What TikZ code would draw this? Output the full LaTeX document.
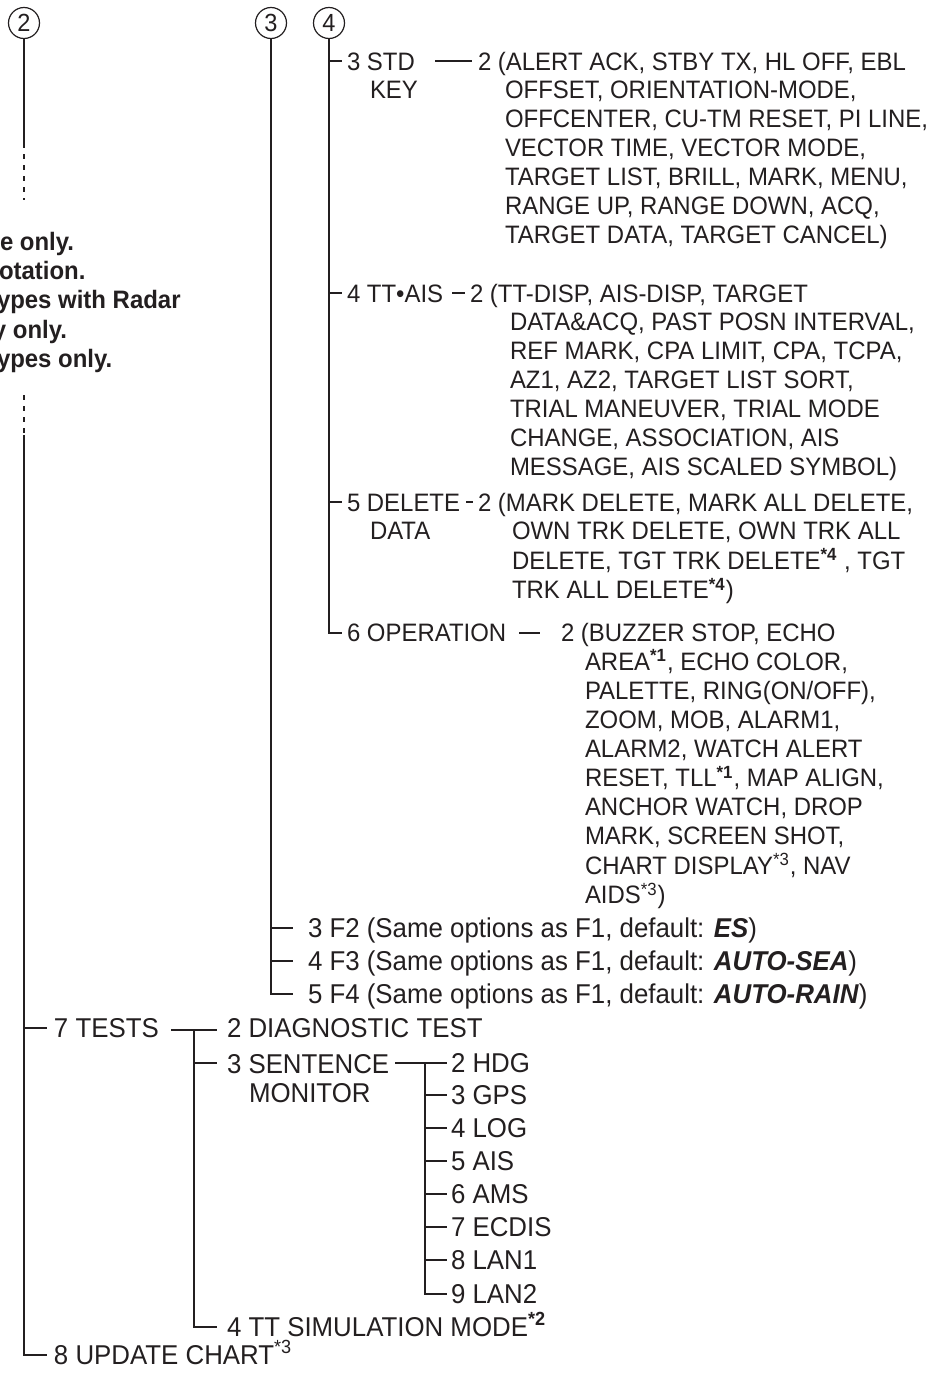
\documentclass[tikz,border=0pt]{standalone}
\usepackage{fontspec}
\setmainfont{Liberation Sans}[FakeStretch=0.95]
\usetikzlibrary{calc}
\definecolor{ink}{HTML}{231F20}
\newcommand{\tl}[1]{\begin{tabular}[t]{@{}l@{}}#1\end{tabular}}
\newcommand{\supb}[1]{\textsuperscript{\textbf{#1}}}
\newcommand{\supr}[1]{\textsuperscript{#1}}
\begin{document}
\begin{tikzpicture}[x=0.5pt,y=-0.5pt,
  br/.style={draw=ink,line width=1.1pt},
  dsh/.style={draw=ink,line width=1.1pt,dash pattern=on 2.5pt off 3pt},
  lbl/.style={anchor=base west,inner sep=0pt,outer sep=0pt,text=ink,font=\fontsize{12.6}{14.45}\selectfont},
  lbig/.style={lbl,font=\fontsize{13.6}{14.5}\selectfont},
  note/.style={lbl,font=\fontsize{12.6}{14.6}\selectfont\bfseries},
  num/.style={circle,draw=ink,line width=0.6pt,minimum size=15.5pt,inner sep=0pt,text=ink,font=\fontsize{12.4}{13}\selectfont}]
\useasboundingbox (0,0) rectangle (938,1376);
\fill[white] (0,0) rectangle (938,1376);

% circled connectors
\node[num] (c2) at (24,23) {2};
\node[num] (c3) at (271,23) {3};
\node[num] (c4) at (329,23) {4};

% notes (cut at the left edge)
\node[note] (n1) at (0,250) {e only.};
\node[note] (n2) at (-1,279) {otation.};
\node[note] (n3) at (-3,308) {ypes with Radar};
\node[note] (n4) at (-7,338) {y only.};
\node[note] (n5) at (-3,367) {ypes only.};

% branch 4
\node[lbl] (std) at (347,70) {\tl{3 STD\\\hspace*{11.5pt}KEY}};
\node[lbl] (stdl) at (478,70) {\tl{2 (ALERT ACK, STBY TX, HL OFF, EBL\\
\hspace*{13.5pt}OFFSET, ORIENTATION-MODE,\\
\hspace*{13.5pt}OFFCENTER, CU-TM RESET, PI LINE,\\
\hspace*{13.5pt}VECTOR TIME, VECTOR MODE,\\
\hspace*{13.5pt}TARGET LIST, BRILL, MARK, MENU,\\
\hspace*{13.5pt}RANGE UP, RANGE DOWN, ACQ,\\
\hspace*{13.5pt}TARGET DATA, TARGET CANCEL)}};
\node[lbl] (tta) at (347,302) {4 TT•AIS};
\node[lbl] (ttl) at (470,302) {\tl{2 (TT-DISP, AIS-DISP, TARGET\\
\hspace*{20pt}DATA\&ACQ, PAST POSN INTERVAL,\\
\hspace*{20pt}REF MARK, CPA LIMIT, CPA, TCPA,\\
\hspace*{20pt}AZ1, AZ2, TARGET LIST SORT,\\
\hspace*{20pt}TRIAL MANEUVER, TRIAL MODE\\
\hspace*{20pt}CHANGE, ASSOCIATION, AIS\\
\hspace*{20pt}MESSAGE, AIS SCALED SYMBOL)}};
\node[lbl] (del) at (347,511) {\tl{5 DELETE\\\hspace*{11.5pt}DATA}};
\node[lbl] (dell) at (478,511) {\tl{2 (MARK DELETE, MARK ALL DELETE,\\
\hspace*{17pt}OWN TRK DELETE, OWN TRK ALL\\
\hspace*{17pt}DELETE, TGT TRK DELETE\supb{*4} , TGT\\
\hspace*{17pt}TRK ALL DELETE\supb{*4})}};
\node[lbl] (ope) at (347,641) {6 OPERATION};
\node[lbl] (opel) at (561,641) {\tl{2 (BUZZER STOP, ECHO\\
\hspace*{12pt}AREA\supb{*1}, ECHO COLOR,\\
\hspace*{12pt}PALETTE, RING(ON/OFF),\\
\hspace*{12pt}ZOOM, MOB, ALARM1,\\
\hspace*{12pt}ALARM2, WATCH ALERT\\
\hspace*{12pt}RESET, TLL\supb{*1}, MAP ALIGN,\\
\hspace*{12pt}ANCHOR WATCH, DROP\\
\hspace*{12pt}MARK, SCREEN SHOT,\\
\hspace*{12pt}CHART DISPLAY\supr{*3}, NAV\\
\hspace*{12pt}AIDS\supr{*3})}};

% branch 3
\node[lbig] (f2) at (308,937) {3 F2 (Same options as F1, default: \textbf{\textit{ES}})};
\node[lbig] (f3) at (308,970) {4 F3 (Same options as F1, default: \textbf{\textit{AUTO-SEA}})};
\node[lbig] (f4) at (308,1003) {5 F4 (Same options as F1, default: \textbf{\textit{AUTO-RAIN}})};

% branch 2
\node[lbig] (tests) at (54,1037) {7 TESTS};
\node[lbig] (diag) at (227,1037) {2 DIAGNOSTIC TEST};
\node[lbig] (sent) at (227,1073) {\tl{3 SENTENCE\\\hspace*{11pt}MONITOR}};
\node[lbig] (hdg) at (451,1072) {2 HDG};
\node[lbig] (gps) at (451,1104) {3 GPS};
\node[lbig] (log) at (451,1137) {4 LOG};
\node[lbig] (ais) at (451,1170) {5 AIS};
\node[lbig] (ams) at (451,1203) {6 AMS};
\node[lbig] (ecd) at (451,1236) {7 ECDIS};
\node[lbig] (lan1) at (451,1269) {8 LAN1};
\node[lbig] (lan2) at (451,1303) {9 LAN2};
\node[lbig] (sim) at (227,1336) {4 TT SIMULATION MODE\supb{*2}};
\node[lbig] (upd) at (54,1364) {8 UPDATE CHART\supr{*3}};

% trunk of branch 2
\coordinate (t2a) at (24,143);
\coordinate (t2b) at (24,200);
\coordinate (t2c) at (24,395);
\coordinate (t2d) at (24,435);
\coordinate (t2e) at (24,1028);
\draw[br] (c2.south) -- (t2a);
\draw[dsh] (t2a) -- (t2b);
\draw[dsh] (t2c) -- (t2d);
\draw[br] (t2d) |- ($(upd.base west)+(-7,-9)$);
\draw[br] (t2e) -- ($(tests.base west)+(-7,-9)$);

% tests sub-tree
\coordinate (ts1) at (171,1030);
\coordinate (tsv) at (194,1030);
\coordinate (ts3) at (194,1063);
\draw[br] (ts1) -- ($(diag.base west)+(-10,-7)$);
\draw[br] (tsv) |- ($(sim.base west)+(-10,-9)$);
\draw[br] (ts3) -- ($(sent.base west)+(-10,-10)$);

% sentence monitor sub-tree
\coordinate (sm1) at (395,1063);
\coordinate (smv) at (425,1063);
\draw[br] (sm1) -- ($(hdg.base west)+(-4,-9)$);
\draw[br] (smv) |- ($(lan2.base west)+(-4,-9)$);
\foreach \n in {gps,log,ais,ams,ecd,lan1}
  \draw[br] ($(\n.base west)+(-26,-9)$) -- ($(\n.base west)+(-4,-9)$);

% branch 3
\draw[br] (c3.south) |- ($(f4.base west)+(-15,-9)$);
\foreach \n in {f2,f3}
  \draw[br] ($(\n.base west)+(-37,-9)$) -- ($(\n.base west)+(-15,-9)$);

% branch 4
\draw[br] (c4.south) |- ($(ope.base west)+(-5,-8)$);
\foreach \n in {std,tta,del}
  \draw[br] ($(\n.base west)+(-18,-9)$) -- ($(\n.base west)+(-5,-9)$);

% dashes between labels and option lists
\draw[br] ($(stdl.base west)+(-43,-9)$) -- ($(stdl.base west)+(-6,-9)$);
\draw[br] ($(ttl.base west)+(-18,-9)$) -- ($(ttl.base west)+(-5,-9)$);
\draw[br] ($(dell.base west)+(-12,-9)$) -- ($(dell.base west)+(-5,-9)$);
\draw[br] ($(opel.base west)+(-42,-8)$) -- ($(opel.base west)+(-21,-8)$);
\end{tikzpicture}
\end{document}
